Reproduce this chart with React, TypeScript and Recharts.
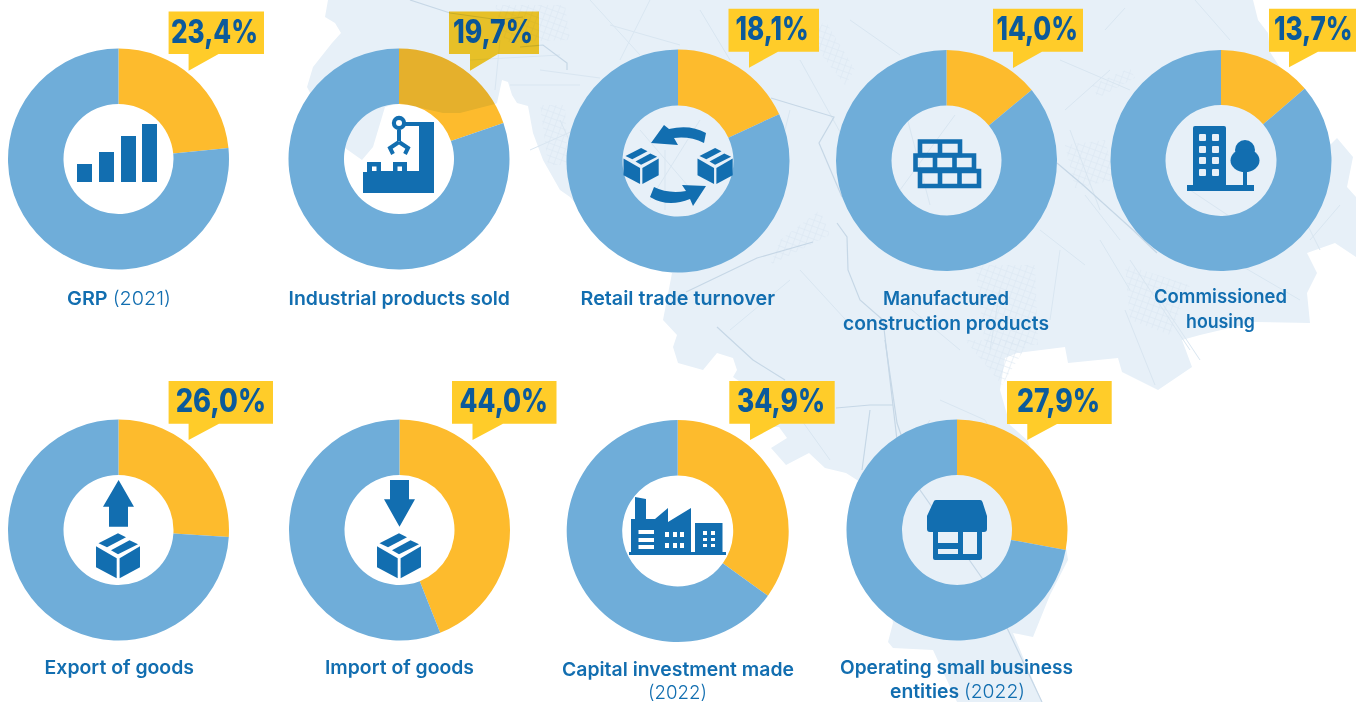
import { PieChart, Pie, Cell, Sector } from "recharts"

const categories = [
  "GRP (2021)",
  "Industrial products sold",
  "Retail trade turnover",
  "Manufactured|construction products",
  "Commissioned|housing",
  "Export of goods",
  "Import of goods",
  "Capital investment made|(2022)",
  "Operating small business|entities (2022)",
]
const shares = [23.4, 19.7, 18.1, 14.0, 13.7, 26.0, 44.0, 34.9, 27.9]
const shareLabels = ["23,4%", "19,7%", "18,1%", "14,0%", "13,7%", "26,0%", "44,0%", "34,9%", "27,9%"]

const BLUE = "#6FADD9"
const AMBER = "#FDBB2D"
const BOX = "#FFCC29"
const DARK = "#0B5A9B"
const ICON = "#126EB0"
const MAP = "#E7F0F8"
const ROAD = "#D9E6F1"
const ROAD_DARK = "#C6D7E6"

// donut centres
const layout = [
  { cx: 118.5, cy: 159, r: 110.5, hole: 55 },
  { cx: 399, cy: 159, r: 110.5, hole: 55 },
  { cx: 678, cy: 161, r: 111.5, hole: 55.5 },
  { cx: 946.5, cy: 160.5, r: 110.5, hole: 55 },
  { cx: 1221, cy: 160.5, r: 110.5, hole: 55.5 },
  { cx: 118.5, cy: 530, r: 110.5, hole: 55 },
  { cx: 399.5, cy: 530, r: 110.5, hole: 55 },
  { cx: 677.7, cy: 531, r: 111, hole: 55.5 },
  { cx: 957, cy: 530, r: 110.5, hole: 55 },
]
// callout box: left, right, top, bottom, tail start, tail end, tail tip y, text left, text right, baseline
const boxes = [
  [168.6, 264, 11.5, 54, 188.6, 218.6, 70.7, 171, 258, 42.5],
  [449, 539, 11.5, 54, 470, 498, 70.7, 453, 533, 42.5],
  [728.5, 819, 8.7, 51.7, 749, 778, 67.7, 735.6, 808.7, 40],
  [993, 1083, 8.7, 51.7, 1013, 1042, 68, 996.5, 1078, 40],
  [1269, 1356, 8.7, 51.7, 1289, 1318, 67.3, 1274, 1352.7, 39.5],
  [168.6, 273, 381, 423.7, 188.6, 219, 440, 175.7, 266, 412.3],
  [452, 556.5, 381, 423.7, 472.5, 503, 440, 459.6, 548, 412.3],
  [729.3, 834.7, 381, 423.7, 750, 780, 440, 737, 825, 411.7],
  [1007, 1111.7, 381, 424, 1027.3, 1057, 440, 1017, 1100, 411.7],
]
// per line: left, right, baseline
const labelPos = [
  [[67, 171, 305]],
  [[288.6, 510, 305]],
  [[580.5, 775, 305]],
  [[883, 1009, 305], [843, 1049, 330]],
  [[1154, 1287, 302.7], [1186, 1255, 328]],
  [[44.6, 194, 674]],
  [[325, 474, 674]],
  [[562, 794, 675.5], [648, 707, 698.5]],
  [[840, 1073, 674], [890, 1025, 698]],
]

const mapOutline =
  "M328,0 L1253,0 L1258,20 L1268,33 L1270,52 L1330,145 L1337,138 L1353,157 L1347,187 L1356,197 L1356,257 L1335,243 L1307,253 L1317,273 L1307,293 L1310,323 L1255,322 L1200,335 L1182,340 L1192,367 L1158,390 L1122,372 L1118,358 L1068,363 L1065,347 L1017,353 L1005,358 L1000,390 L1010,425 L1027,440 L1060,510 L1068,560 L1050,595 L1033,637 L1013,633 L1042,702 L957,702 L933,650 L893,648 L888,642 L893,623 L880,560 L885,500 L857,480 L846,473 L825,468 L809,453 L786,465 L771,448 L787,438 L779,427 L750,427 L748,387 L733,377 L737,370 L733,358 L717,353 L703,370 L678,363 L673,347 L677,335 L663,320 L672,273 L600,230 L570,197 L560,190 L543,160 L533,133 L528,106 L517,103 L512,95 L508,82 L502,80 L497,103 L495,104 L460,113 L443,113 L399,103 L385,107 L373,147 L362,160 L345,148 L330,130 L307,87 L313,67 L332,43 L341,33 L335,23 L325,17 Z"

const roadsDark = [
  "M410,0 L450,13 L500,20 L523,17",
  "M520,47 L543,45 L567,63 L567,70",
  "M771,98 L834,117 L819,143 L842,197",
  "M717,327 L753,360 L785,380",
  "M1057,163 L1083,185 L1133,230 L1157,253",
  "M837,223 L847,237 L848,270 L860,300 L883,320 L890,380 L897,440",
  "M885,340 L897,423 L920,490 L982,578 L1008,630 L1042,702",
  "M836,408 L870,405 L893,405",
  "M870,410 L862,470",
  "M686,292 L757,258 L813,242",
]
const roadsLight = [
  "M470,60 L560,55 M500,40 L495,90 M540,70 L600,78",
  "M510,85 L580,85 M560,120 L585,175 M530,150 L575,130",
  "M590,0 L640,55 M610,25 L680,45 M620,70 L680,85 M700,10 L730,60",
  "M790,110 L760,230 M800,60 L850,150 M850,20 L900,55",
  "M1060,60 L1130,90 M1065,110 L1110,70 M1070,130 L1100,210 M1085,195 L1120,240",
  "M1040,230 L1085,265 M1060,250 L1050,320 M1100,240 L1130,290 M1130,260 L1190,350",
  "M1160,300 L1200,360 M1125,310 L1155,385 M1000,290 L990,350",
  "M780,390 L830,460 M730,330 L790,280 M800,270 L855,330 M900,300 L960,350",
  "M650,0 L620,60 M1230,40 L1195,0 M1105,30 L1125,8",
  "M905,460 L930,420 M940,400 L985,420 L1000,445",
  "M905,110 L930,205 M955,115 L900,190 M1190,190 L1250,230",
  "M700,120 L650,200 M640,130 L700,200 M665,150 L665,210",
  "M1285,180 L1320,250 M1240,265 L1300,300 M1340,205 L1310,240",
]
const gridPatches = [
  "M495,5 L565,5 L570,40 L505,42 Z",
  "M540,105 L565,105 L568,165 L548,165 Z",
  "M975,265 L1035,265 L1038,345 L985,345 Z",
  "M1065,145 L1105,140 L1115,180 L1075,188 Z",
  "M1125,265 L1190,285 L1170,335 L1130,320 Z",
  "M965,340 L1030,340 L1002,385 Z",
  "M1092,85 L1130,68 L1135,78 L1098,98 Z",
  "M825,20 L855,70 L845,85 L810,40 Z",
  "M770,265 L830,235 L820,210 L780,240 Z",
]

function MapShape() {
  return (
    <>
      <path d={mapOutline} fill={MAP} />
      {gridPatches.map((d, i) => (
        <path key={i} d={d} fill="url(#streetGrid)" />
      ))}
      {roadsLight.map((d, i) => (
        <path key={i} d={d} fill="none" stroke={ROAD} strokeWidth={1} />
      ))}
      {roadsDark.map((d, i) => (
        <path key={i} d={d} fill="none" stroke={ROAD_DARK} strokeWidth={1.2} />
      ))}
    </>
  )
}

function Crate({ x, y, s = 1 }: { x: number; y: number; s?: number }) {
  return (
    <g transform={`translate(${x} ${y}) scale(${s})`} fill={ICON}>
      <path d="M0,13 L20.7,25 L20.7,45 L0,34 Z" />
      <path d="M23.6,25 L44,13 L44,34 L23.6,45 Z" />
      <path d="M2.5,10 L22,0 L30,4 L11,14 Z" />
      <path d="M15,17 L33.5,7 L42,11 L22,21 Z" />
    </g>
  )
}

function Icons() {
  return (
    <g fill={ICON}>
      {/* GRP bars */}
      <path d="M77,164H92V182H77Z M99,152H114V182H99Z M121,136H136V182H121Z M142,124H157V182H142Z" />

      {/* robot arm */}
      <path d="M363,193 V172 H367 V162 H381 V171 H393 V162 H407 V171 H419 V126 H402 V122 H434 V193 Z" />
      <path fill="#fff" d="M372,166.5h4.5v4.5h-4.5Z M397.5,166.5h4.5v4.5h-4.5Z" />
      <circle cx={399} cy={123} r={7.2} />
      <circle cx={399} cy={123} r={3} fill="#fff" />
      <path d="M397,130h4v11h-4Z" />
      <path d="M399,142 L390,148 L393,154 M399,142 L408,148 L405,154" fill="none" stroke={ICON} strokeWidth={4} />

      {/* retail */}
      <Crate x={623.5} y={148} s={0.8} />
      <Crate x={697.5} y={148} s={0.8} />
      <path d="M664,125 L651,143 L678,145 L674,138 Q690,136 704,143 L706,133 Q690,124 669,129 Z" />
      <path d="M693,206 L706,186 L682,185 L686,191 Q668,194 654,187 L650,197 Q668,208 690,199 Z" />

      {/* bricks */}
      <g fill="none" stroke={ICON} strokeWidth={4.6}>
        <path d="M920,141.5h20v13.5h-20Z M940,141.5h20v13.5h-20Z" />
        <path d="M915.5,155.5h19.5v14h-19.5Z M935,155.5h19.5v14h-19.5Z M954.5,155.5h19.5v14h-19.5Z" />
        <path d="M920,171h20v15h-20Z M940,171h19.5v15h-19.5Z M959.5,171h19.5v15h-19.5Z" />
      </g>

      {/* housing */}
      <path d="M1193,128 q0,-2 2,-2 h29 q2,0 2,2 V185 H1193 Z" />
      <g fill={MAP}>
        {[134, 146, 157, 169].map((y) => (
          <g key={y}>
            <rect x={1199} y={y} width={7} height={7} rx={1} />
            <rect x={1212} y={y} width={7} height={7} rx={1} />
          </g>
        ))}
      </g>
      <path d="M1187,185h67v6h-67Z M1243,165h4v20h-4Z" />
      <circle cx={1245} cy={150} r={10} />
      <ellipse cx={1245} cy={160.5} rx={14.5} ry={11.5} />

      {/* export / import */}
      <path d="M118.6,480 L134,506.7 H128 V526.7 H109 V506.7 H103 Z" />
      <Crate x={96} y={533.3} />
      <path d="M390,480 H409 V499.3 H415 L399.5,526.7 L384,499.3 H390 Z" />
      <Crate x={377} y={533.3} />

      {/* factory */}
      <path d="M629,552 H631 V519 H635 V497 L646,499 V519 H655 L668,508 V522 L691,508 V552 H695 V523 H722.5 V552 H726 V555 H629 Z" />
      <path fill="#fff" d="M638.5,530h15.5v4h-15.5Z M638.5,538h15.5v4h-15.5Z M638.5,545h15.5v4h-15.5Z M665,532h4v5h-4Z M673,532h4v5h-4Z M680,532h4v5h-4Z M665,543h4v5h-4Z M673,543h4v5h-4Z M680,543h4v5h-4Z M703,531h4v4h-4Z M711,531h4v4h-4Z M703,538h4v3h-4Z M711,538h4v3h-4Z M703,544h4v3h-4Z M711,544h4v3h-4Z" />

      {/* shop */}
      <path d="M936,500 H980 Q982,500 982.5,502 L987,516 V529 Q987,532 984,532 H982 V558 Q982,560 980,560 H935 Q933,560 933,558 V532 H930 Q927,532 927,529 V516 L933.5,502 Q934,500 936,500 Z" />
      <path fill={MAP} d="M938,532h20v11h-20Z M938,549h20v5h-20Z M963,532h14v22h-14Z" />
    </g>
  )
}

function CategoryText({ text, x, right, y }: { text: string; x: number; right: number; y: number }) {
  const parts = text.split(/(\(\d+\))/).filter(Boolean)
  return (
    <text x={x} y={y} textLength={right - x} lengthAdjust="spacingAndGlyphs" fontSize={19} fontFamily="Inter" fill={ICON}>
      {parts.map((p, i) => (
        <tspan key={i} fontWeight={p.startsWith("(") ? 300 : 600}>
          {p}
        </tspan>
      ))}
    </text>
  )
}

function boxPath(b: number[]) {
  return `M${b[0]},${b[2]} H${b[1]} V${b[3]} H${b[5]} L${b[4]},${b[6]} V${b[3]} H${b[0]} Z`
}

export default function App() {
  const second = layout[1]
  return (
    <div style={{ position: "absolute", left: 0, top: 0, width: 1356, height: 702, overflow: "hidden", background: "#fff" }}>
      <svg width={1356} height={702} style={{ position: "absolute", left: 0, top: 0 }}>
        <defs>
          <pattern id="streetGrid" width={6} height={6} patternUnits="userSpaceOnUse" patternTransform="rotate(20)">
            <path d="M0,0H6M0,0V6" stroke={ROAD} strokeWidth={1} fill="none" />
          </pattern>
        </defs>
        <MapShape />
      </svg>
      <div style={{ position: "absolute", left: 0, top: 0 }}>
        <PieChart width={1356} height={702} margin={{ top: 0, right: 0, bottom: 0, left: 0 }}>
          {shares.map((share, i) => (
            <Pie
              key={categories[i]}
              data={[
                { name: "share", value: share },
                { name: "rest", value: 100 - share },
              ]}
              dataKey="value"
              cx={layout[i].cx}
              cy={layout[i].cy}
              innerRadius={layout[i].hole}
              outerRadius={layout[i].r}
              startAngle={90}
              endAngle={-270}
              stroke="none"
              isAnimationActive={false}
            >
              <Cell fill={AMBER} />
              <Cell fill={BLUE} />
            </Pie>
          ))}
        </PieChart>
      </div>
      {/* callouts, icons and texts go over the donuts; the map also tints the second slice and callout */}
      <svg width={1356} height={702} style={{ position: "absolute", left: 0, top: 0 }}>
        {boxes.map((b, i) => (
          <path key={i} d={boxPath(b)} fill={BOX} />
        ))}
        <clipPath id="overSecond">
          <Sector
            cx={second.cx}
            cy={second.cy}
            innerRadius={second.hole}
            outerRadius={second.r}
            startAngle={90}
            endAngle={90 - shares[1] * 3.6}
          />
          <path d={boxPath(boxes[1])} />
        </clipPath>
        <Icons />
        {shareLabels.map((t, i) => (
          <text
            key={t}
            x={boxes[i][7]}
            y={boxes[i][9]}
            textLength={boxes[i][8] - boxes[i][7]}
            lengthAdjust="spacingAndGlyphs"
            fontSize={32}
            fontWeight={800}
            fontFamily="Inter"
            fill={DARK}
          >
            {t}
          </text>
        ))}
        {categories.map((c, i) =>
          c.split("|").map((line, j) => (
            <CategoryText key={line} text={line} x={labelPos[i][j][0]} right={labelPos[i][j][1]} y={labelPos[i][j][2]} />
          ))
        )}
      </svg>
      <svg width={1356} height={702} style={{ position: "absolute", left: 0, top: 0, mixBlendMode: "multiply" }}>
        <g clipPath="url(#overSecond)">
          <MapShape />
        </g>
      </svg>
    </div>
  )
}
